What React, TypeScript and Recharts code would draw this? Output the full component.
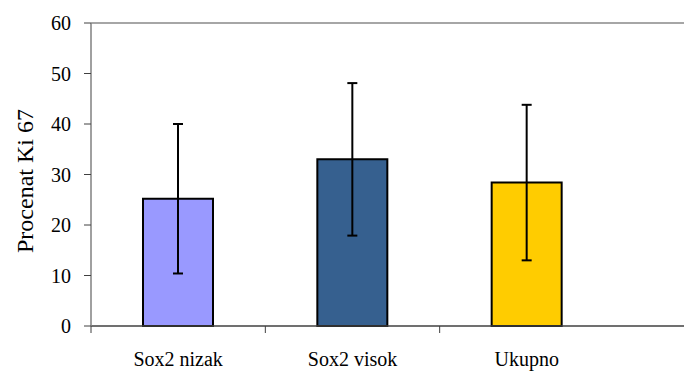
import React from 'react';
import { BarChart, Bar, XAxis, YAxis, ErrorBar, Cell, ReferenceLine } from 'recharts';

const categories = ['Sox2 nizak', 'Sox2 visok', 'Ukupno'];
const means = [25.2, 33.0, 28.4];
const errors = [14.8, 15.1, 15.4];
const colors = ['#9999FF', '#36608F', '#FFCC00'];
const yTicks = [0, 10, 20, 30, 40, 50, 60];

const data = categories.map((name, i) => ({ name, value: means[i], err: errors[i] }));

const FONT = 'Liberation Serif';

const XTick = (props: any) => {
  const { x, y, payload } = props;
  const off = payload && typeof payload.offset === 'number' && payload.offset !== 0 ? Math.abs(payload.offset) : 87;
  return (
    <g>
      <line x1={x - off} y1={y} x2={x - off} y2={y + 7} stroke="#404040" strokeWidth={1} />
      <text x={x} y={y + 40} textAnchor="middle" fontFamily={FONT} fontSize={20} fill="#000">
        {payload.value}
      </text>
    </g>
  );
};

const YTick = (props: any) => {
  const { x, y, payload } = props;
  return (
    <text x={x} y={y + 7} textAnchor="end" fontFamily={FONT} fontSize={20} fill="#000">
      {payload.value}
    </text>
  );
};

const YLabel = () => (
  <text
    x={33}
    y={181}
    transform="rotate(-90, 33, 181)"
    textAnchor="middle"
    fontFamily={FONT}
    fontSize={24}
    fill="#000"
  >
    Procenat Ki 67
  </text>
);

export default function App() {
  return (
    <div style={{ position: 'fixed', left: 0, top: 0, width: 684, height: 371, background: '#fff' }}>
      <BarChart
        width={684}
        height={371}
        data={data}
        margin={{ top: 23, right: 0, bottom: 0, left: 0 }}
        barSize={70}
      >
        <ReferenceLine y={60} stroke="#888" strokeWidth={1.5} />
        <XAxis
          dataKey="name"
          height={45}
          padding={{ left: 0, right: 70 }}
          tickLine={false}
          tickSize={0}
          tickMargin={0}
          axisLine={{ stroke: '#404040', strokeWidth: 1.5 }}
          tick={<XTick />}
          interval={0}
        />
        <YAxis
          width={91}
          domain={[0, 60]}
          ticks={yTicks}
          interval={0}
          tickSize={7}
          tickMargin={13}
          axisLine={{ stroke: '#808080', strokeWidth: 1.5 }}
          tickLine={{ stroke: '#404040', strokeWidth: 1 }}
          tick={<YTick />}
          label={<YLabel />}
        />
        <Bar dataKey="value" stroke="#000" strokeWidth={2} isAnimationActive={false}>
          {data.map((d, i) => (
            <Cell key={d.name} fill={colors[i]} />
          ))}
          <ErrorBar dataKey="err" width={5} stroke="#000" strokeWidth={2} direction="y" />
        </Bar>
      </BarChart>
    </div>
  );
}
